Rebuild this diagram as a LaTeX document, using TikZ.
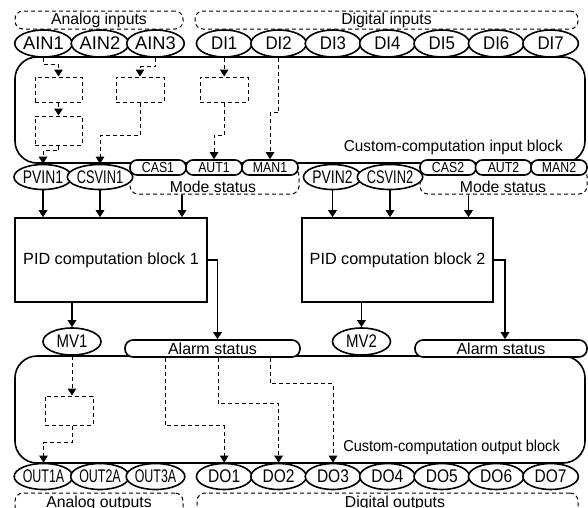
\documentclass[tikz,border=0pt]{standalone}
\usepackage{fontspec}
\setmainfont{Liberation Sans}
\usepackage{graphicx}
\usetikzlibrary{shapes.geometric,arrows.meta,calc}
\newcommand{\sqz}[2]{\scalebox{#1}[1]{#2}}
\tikzset{
 ell/.style={ellipse, draw, line width=1.6pt, fill=white, inner sep=0pt, font=\fontsize{18.3}{19}\selectfont},
 tagbox/.style={rectangle, rounded corners=7pt, draw, line width=1.6pt, fill=white, inner sep=0pt, minimum height=15pt, font=\fontsize{14.5}{15}\selectfont},
 alarmbox/.style={rectangle, rounded corners=8pt, draw, line width=1.6pt, fill=white, inner sep=0pt, minimum height=17pt, font=\fontsize{16}{16}\selectfont},
 grp/.style={rectangle, rounded corners=8pt, draw, dash pattern=on 4pt off 3pt, line width=1pt, inner sep=0pt},
 blk/.style={rectangle, rounded corners=22pt, draw, line width=1.6pt, inner sep=0pt},
 sbox/.style={rectangle, draw, dash pattern=on 4pt off 3pt, line width=1pt, inner sep=0pt},
 pidbox/.style={rectangle, draw, line width=1.6pt, inner sep=0pt, font=\fontsize{16.2}{17}\selectfont},
 lbl/.style={font=\fontsize{15.8}{16}\selectfont, inner sep=0pt},
 arr/.style={line width=1.6pt, -{Triangle[length=7pt,width=8.5pt]}},
 darr/.style={line width=1pt, dash pattern=on 4pt off 3pt, -{Triangle[length=7pt,width=8.5pt]}},
}
\begin{document}
\begin{tikzpicture}[x=1pt,y=-1pt]
\useasboundingbox (0,0) rectangle (588,507);
\clip (0,0) rectangle (588,507);

% group label boxes (top)
\node[grp,lbl,minimum width=168pt,minimum height=18pt] (gai) at (99,20) {Analog inputs};
\node[grp,lbl,minimum width=383pt,minimum height=18pt] (gdi) at (386.5,20) {Digital inputs};

% computation blocks
\node[blk,minimum width=570pt,minimum height=106pt] (inb) at (300,110) {};
\node[blk,minimum width=570pt,minimum height=107pt] (outb) at (300,409.5) {};
\node[lbl,anchor=east] (inbl) at (563,147) {\sqz{0.97}{Custom-computation input block}};
\node[lbl,anchor=east] (outbl) at (560,447) {\sqz{0.92}{Custom-computation output block}};

% input ellipses
\node[ell,minimum width=57pt,minimum height=27pt] (ain1) at (43.5,43.5) {AIN1};
\node[ell,minimum width=57pt,minimum height=27pt] (ain2) at (100,43.5) {AIN2};
\node[ell,minimum width=57pt,minimum height=27pt] (ain3) at (155.5,43.5) {AIN3};
\node[ell,minimum width=55.5pt,minimum height=27pt] (di1) at (224.2,43.5) {\sqz{0.92}{DI1}};
\node[ell,minimum width=55.5pt,minimum height=27pt] (di2) at (278.6,43.5) {\sqz{0.92}{DI2}};
\node[ell,minimum width=55.5pt,minimum height=27pt] (di3) at (333.0,43.5) {\sqz{0.92}{DI3}};
\node[ell,minimum width=55.5pt,minimum height=27pt] (di4) at (387.4,43.5) {\sqz{0.92}{DI4}};
\node[ell,minimum width=55.5pt,minimum height=27pt] (di5) at (441.8,43.5) {\sqz{0.92}{DI5}};
\node[ell,minimum width=55.5pt,minimum height=27pt] (di6) at (496.2,43.5) {\sqz{0.92}{DI6}};
\node[ell,minimum width=55.5pt,minimum height=27pt] (di7) at (550.6,43.5) {\sqz{0.92}{DI7}};

% inner dashed boxes (input block)
\node[sbox,minimum width=47pt,minimum height=25pt] (a1) at (58.5,89.5) {};
\node[sbox,minimum width=47pt,minimum height=29pt] (a2) at (58.5,130.5) {};
\node[sbox,minimum width=48pt,minimum height=25pt] (a3) at (140,89.5) {};
\node[sbox,minimum width=48pt,minimum height=25pt] (d1) at (224.2,89.5) {};

% mode status groups
\node[grp,minimum width=169pt,minimum height=26pt] (ms1) at (214.5,181) {};
\node[grp,minimum width=167pt,minimum height=26pt] (ms2) at (503.5,181) {};

% PV / CSV ellipses and mode tags
\node[ell,minimum width=58pt,minimum height=25pt] (pvin1) at (43,177) {\sqz{0.76}{PVIN1}};
\node[ell,minimum width=56pt,minimum height=25pt] (csvin1) at (100,177) {\sqz{0.7}{CSVIN1}};
\node[tagbox,minimum width=56pt] (cas1) at (158,167.5) {\sqz{0.85}{CAS1}};
\node[tagbox,minimum width=56pt] (aut1) at (214,167.5) {\sqz{0.85}{AUT1}};
\node[tagbox,minimum width=56pt] (man1) at (270,167.5) {\sqz{0.85}{MAN1}};
\node[ell,minimum width=58pt,minimum height=25pt] (pvin2) at (332.5,177) {\sqz{0.76}{PVIN2}};
\node[ell,minimum width=56pt,minimum height=25pt] (csvin2) at (390,177) {\sqz{0.7}{CSVIN2}};
\node[tagbox,minimum width=56pt] (cas2) at (448,167.5) {\sqz{0.85}{CAS2}};
\node[tagbox,minimum width=56pt] (aut2) at (503.5,167.5) {\sqz{0.85}{AUT2}};
\node[tagbox,minimum width=56pt] (man2) at (559,167.5) {\sqz{0.85}{MAN2}};
\node[lbl] (ms1t) at (213,186.5) {Mode status};
\node[lbl] (ms2t) at (503,186.5) {Mode status};

% PID blocks
\node[pidbox,minimum width=192pt,minimum height=84pt] (pid1) at (111,260) {PID computation block 1};
\node[pidbox,minimum width=191pt,minimum height=84pt] (pid2) at (397.5,260) {PID computation block 2};

% MV and alarm status
\node[ell,minimum width=58pt,minimum height=27pt] (mv1) at (72,341.5) {\sqz{0.82}{MV1}};
\node[ell,minimum width=58pt,minimum height=27pt] (mv2) at (361.5,341.5) {\sqz{0.82}{MV2}};
\node[alarmbox,minimum width=175pt] (al1) at (212.5,348.5) {Alarm status};
\node[alarmbox,minimum width=172pt] (al2) at (501,348.5) {Alarm status};

% inner dashed box (output block)
\node[sbox,minimum width=48pt,minimum height=29pt] (b1) at (69,410.5) {};

% output groups and ellipses
\node[grp,minimum width=168pt,minimum height=27pt] (gao) at (99,506.5) {};
\node[grp,minimum width=381pt,minimum height=27pt] (gdo) at (387.5,506.5) {};
\node[lbl,anchor=base] (gaot) at (99,507.5) {Analog outputs};
\node[lbl,anchor=base] (gdot) at (395,507.5) {Digital outputs};
\node[ell,minimum width=57pt,minimum height=26pt] (out1a) at (43.5,476.5) {\sqz{0.68}{OUT1A}};
\node[ell,minimum width=57pt,minimum height=26pt] (out2a) at (100,476.5) {\sqz{0.68}{OUT2A}};
\node[ell,minimum width=57pt,minimum height=26pt] (out3a) at (155.5,476.5) {\sqz{0.68}{OUT3A}};
\node[ell,minimum width=55.5pt,minimum height=26pt] (do1) at (224.2,476.5) {\sqz{0.85}{DO1}};
\node[ell,minimum width=55.5pt,minimum height=26pt] (do2) at (278.6,476.5) {\sqz{0.85}{DO2}};
\node[ell,minimum width=55.5pt,minimum height=26pt] (do3) at (333.0,476.5) {\sqz{0.85}{DO3}};
\node[ell,minimum width=55.5pt,minimum height=26pt] (do4) at (387.4,476.5) {\sqz{0.85}{DO4}};
\node[ell,minimum width=55.5pt,minimum height=26pt] (do5) at (441.8,476.5) {\sqz{0.85}{DO5}};
\node[ell,minimum width=55.5pt,minimum height=26pt] (do6) at (496.2,476.5) {\sqz{0.85}{DO6}};
\node[ell,minimum width=55.5pt,minimum height=26pt] (do7) at (550.6,476.5) {\sqz{0.85}{DO7}};

% dashed connectors, input block
\draw[darr] (ain1.south) -- ++(0,7) -| (a1.north);
\draw[darr] (a1.south) -- (a2.north);
\draw[darr] (a2.south) -- ++(0,5) -| (pvin1.north);
\draw[darr] (ain3.south) -- ++(0,9) -| (a3.north);
\draw[darr] (a3.south) -- ++(0,33) -| (csvin1.north);
\draw[darr] (di1.south) -- (d1.north);
\draw[darr] (d1.south) -- ++(0,33) -| (aut1.north);
\draw[darr] (di2.south) -- ++(0,55) -| (man1.north);

% solid connectors
\draw[arr] (pvin1.south) -- (pvin1.south |- pid1.north);
\draw[arr] (csvin1.south) -- (csvin1.south |- pid1.north);
\draw[arr] ([xshift=-32.5pt]ms1.south) -- ([xshift=-32.5pt]ms1.south |- pid1.north);
\draw[arr] (pvin2.south) -- (pvin2.south |- pid2.north);
\draw[arr] (csvin2.south) -- (csvin2.south |- pid2.north);
\draw[arr] ([xshift=-35pt]ms2.south) -- ([xshift=-35pt]ms2.south |- pid2.north);
\draw[arr] (pid1.east) -| ([xshift=5pt]al1.north);
\draw[arr] (pid2.east) -| ([xshift=4pt]al2.north);
\draw[arr] (pid1.south -| mv1.north) -- (mv1.north);
\draw[arr] (pid2.south -| mv2.north) -- (mv2.north);

% dashed connectors, output block
\draw[darr] (mv1.south) -- (mv1.south |- b1.north);
\draw[darr] (b1.south -| mv1.south) -- ++(0,17) -| (out1a.north);
\draw[darr] ([xshift=-47.5pt]al1.south) -- ++(0,68) -| (do1.north);
\draw[darr] ([xshift=5.5pt]al1.south) -- ++(0,46) -| (do2.north);
\draw[darr] ([xshift=57.5pt]al1.south) -- ++(0,26) -| (do3.north);
\end{tikzpicture}
\end{document}
